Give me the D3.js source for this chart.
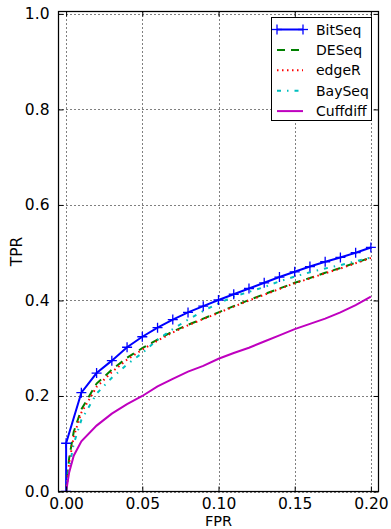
<!DOCTYPE html>
<html><head><meta charset="utf-8">
<script src="https://cdn.jsdelivr.net/npm/d3@7"></script>
<style>
html,body{margin:0;padding:0;background:#fff;}
svg{display:block;font-family:"DejaVu Sans",sans-serif;}
</style></head>
<body><svg id="chart" width="391" height="529"></svg>
<script>
const fpr = [0, 0.01, 0.02, 0.03, 0.04, 0.05, 0.06, 0.07, 0.08, 0.09, 0.10, 0.11, 0.12, 0.13, 0.14, 0.15, 0.16, 0.17, 0.18, 0.19, 0.20];
const fprEarly = [0, 0.002, 0.005];
const bitseqStart = [0, 0.101];
const bitseq = [0.101, 0.207, 0.248, 0.274, 0.302, 0.324, 0.343, 0.360, 0.375, 0.388, 0.401, 0.413, 0.425, 0.437, 0.449, 0.460, 0.471, 0.481, 0.490, 0.500, 0.511];
const deseqEarly = [0, 0.07, 0.125];
const deseq = [0.172, 0.226, 0.255, 0.280, 0.300, 0.318, 0.335, 0.349, 0.362, 0.375, 0.388, 0.401, 0.413, 0.425, 0.437, 0.447, 0.458, 0.468, 0.479, 0.490];
const edgerEarly = [0, 0.06, 0.115];
const edger = [0.165, 0.219, 0.250, 0.276, 0.297, 0.316, 0.333, 0.348, 0.361, 0.374, 0.387, 0.400, 0.412, 0.424, 0.436, 0.446, 0.457, 0.467, 0.478, 0.489];
const bayseqEarly = [0, 0.05, 0.10];
const bayseq = [0.150, 0.205, 0.238, 0.266, 0.290, 0.318, 0.340, 0.360, 0.378, 0.394, 0.408, 0.418, 0.428, 0.440, 0.450, 0.459, 0.467, 0.474, 0.482, 0.490];
const cuffEarly = [0, 0.04, 0.075];
const cuffdiff = [0.105, 0.138, 0.163, 0.183, 0.200, 0.220, 0.236, 0.251, 0.263, 0.278, 0.290, 0.301, 0.314, 0.327, 0.340, 0.351, 0.362, 0.375, 0.390, 0.408];
const xTicks = [0, 0.05, 0.10, 0.15, 0.20];
const xTickLabels = ["0.00", "0.05", "0.10", "0.15", "0.20"];
const yTicks = [0, 0.2, 0.4, 0.6, 0.8, 1.0];
const yTickLabels = ["0.0", "0.2", "0.4", "0.6", "0.8", "1.0"];
const seriesNames = ["BitSeq", "DESeq", "edgeR", "BaySeq", "Cuffdiff"];
const seriesColors = ["#0000ff", "#008000", "#ff0000", "#00bfbf", "#bf00bf"];
const seriesDash = [null, "8,6", "1.5,3.5", "4,6,1.5,6", null];

const mk = (xs, ys) => xs.map((x, i) => [x, ys[i]]);
const rest = fpr.slice(1);
const seriesData = [
  mk([0, 0], bitseqStart).concat(mk(fpr.slice(1), bitseq.slice(1))),
  mk(fprEarly, deseqEarly).concat(mk(rest, deseq)),
  mk(fprEarly, edgerEarly).concat(mk(rest, edger)),
  mk(fprEarly, bayseqEarly).concat(mk(rest, bayseq)),
  mk(fprEarly, cuffEarly).concat(mk(rest, cuffdiff))
];
const bitMarkers = mk(fpr, bitseq).concat([[0, 0]]);

const L = 58.5, R = 378.5, T = 11.5, B = 491.5;
const x = d3.scaleLinear().domain([-0.005, 0.205]).range([L, R]);
const y = d3.scaleLinear().domain([0, 1.005]).range([B, T]);
const svg = d3.select("#chart");

svg.append("defs").append("clipPath").attr("id", "clip")
  .append("rect").attr("x", L).attr("y", T).attr("width", R - L).attr("height", B - T);

// grid
const grid = svg.append("g");
grid.selectAll(".gx").data(xTicks).join("line")
  .attr("x1", d => Math.round(x(d)) + 0.5).attr("x2", d => Math.round(x(d)) + 0.5)
  .attr("y1", T).attr("y2", B)
  .attr("stroke", "#000").attr("stroke-width", 1).attr("stroke-dasharray", "1,3");
grid.selectAll(".gy").data(yTicks).join("line")
  .attr("y1", d => Math.round(y(d)) + 0.5).attr("y2", d => Math.round(y(d)) + 0.5)
  .attr("x1", L).attr("x2", R)
  .attr("stroke", "#000").attr("stroke-width", 1).attr("stroke-dasharray", "1,3");

// series
const line = d3.line().x(d => x(d[0])).y(d => y(d[1]));
const plot = svg.append("g").attr("clip-path", "url(#clip)");
seriesData.forEach((data, i) => {
  plot.append("path").datum(data).attr("d", line)
    .attr("fill", "none").attr("stroke", seriesColors[i]).attr("stroke-width", 2)
    .attr("stroke-dasharray", seriesDash[i]);
});
const plus = (g, cx, cy, col) => {
  g.append("line").attr("x1", cx - 5).attr("x2", cx + 5).attr("y1", cy).attr("y2", cy)
    .attr("stroke", col).attr("stroke-width", 1.3);
  g.append("line").attr("x1", cx).attr("x2", cx).attr("y1", cy - 5).attr("y2", cy + 5)
    .attr("stroke", col).attr("stroke-width", 1.3);
};
bitMarkers.forEach(d => plus(plot, x(d[0]), y(d[1]), seriesColors[0]));

// axes (inward ticks on all sides)
const axB = svg.append("g").attr("transform", `translate(0,${B})`)
  .call(d3.axisBottom(x).tickValues(xTicks).tickFormat((d, i) => xTickLabels[i]).tickSizeInner(-5).tickSizeOuter(0).tickPadding(6));
const axT = svg.append("g").attr("transform", `translate(0,${T})`)
  .call(d3.axisTop(x).tickValues(xTicks).tickFormat("").tickSizeInner(-5).tickSizeOuter(0));
const axL = svg.append("g").attr("transform", `translate(${L},0)`)
  .call(d3.axisLeft(y).tickValues(yTicks).tickFormat((d, i) => yTickLabels[i]).tickSizeInner(-5).tickSizeOuter(0).tickPadding(9));
const axR = svg.append("g").attr("transform", `translate(${R},0)`)
  .call(d3.axisRight(y).tickValues(yTicks).tickFormat("").tickSizeInner(-5).tickSizeOuter(0));
[axB, axT, axL, axR].forEach(a => {
  a.select(".domain").remove();
  a.selectAll("line").attr("stroke", "#000").attr("stroke-width", 1);
  a.selectAll("text").attr("fill", "#000").attr("font-size", 15.5).attr("font-family", "DejaVu Sans");
});
svg.append("rect").attr("x", L).attr("y", T).attr("width", R - L).attr("height", B - T)
  .attr("fill", "none").attr("stroke", "#000").attr("stroke-width", 1.25);

// axis labels
svg.append("text").attr("x", (L + R) / 2).attr("y", 526).attr("text-anchor", "middle")
  .attr("font-size", 14.5).text("FPR");
svg.append("text").attr("transform", `translate(22,${(T + B) / 2}) rotate(-90)`)
  .attr("text-anchor", "middle").attr("font-size", 15.5).text("TPR");

// legend
const lg = svg.append("g");
lg.append("rect").attr("x", 271.5).attr("y", 17.5).attr("width", 100).attr("height", 103)
  .attr("fill", "#fff").attr("stroke", "#000").attr("stroke-width", 1);
seriesNames.forEach((name, i) => {
  const cy = 29.5 + i * 20.4;
  lg.append("line").attr("x1", 277).attr("x2", 303).attr("y1", cy).attr("y2", cy)
    .attr("stroke", seriesColors[i]).attr("stroke-width", 2).attr("stroke-dasharray", seriesDash[i]);
  if (i === 0) { plus(lg, 277, cy, seriesColors[0]); plus(lg, 303, cy, seriesColors[0]); }
  lg.append("text").attr("x", 316).attr("y", cy + 5).attr("font-size", 14).attr("fill", "#000").text(name);
});
</script></body></html>
